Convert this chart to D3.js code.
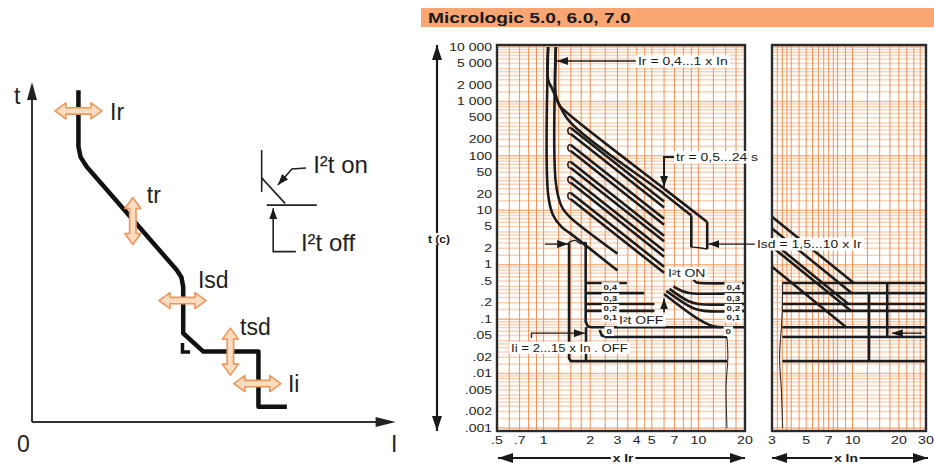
<!DOCTYPE html>
<html>
<head>
<meta charset="utf-8">
<script src="https://cdnjs.cloudflare.com/ajax/libs/d3/7.8.5/d3.min.js"></script>
<style>
body { margin: 0; background: #fff; }
svg { display: block; font-family: "Liberation Sans", Arial, sans-serif; }
</style>
</head>
<body>
<div id="chart"></div>
<script>
// Micrologic 5.0 / 6.0 / 7.0 trip curves + the little sketch on the left

// ---- axis ticks ----
var yTicks = [10000, 5000, 2000, 1000, 500, 200, 100, 50, 20, 10, 5, 2, 1, 0.5, 0.2, 0.1, 0.05, 0.02, 0.01, 0.005, 0.002, 0.001];
var yTickText = ["10 000", "5 000", "2 000", "1 000", "500", "200", "100", "50", "20", "10", "5", "2", "1", ".5", ".2", ".1", ".05", ".02", ".01", ".005", ".002", ".001"];
var irTicks = [0.5, 0.7, 1, 2, 3, 4, 5, 7, 10, 20];
var irTickText = [".5", ".7", "1", "2", "3", "4", "5", "7", "10", "20"];
var inTicks = [3, 5, 7, 10, 20, 30];
var inTickText = ["3", "5", "7", "10", "20", "30"];
var irGrid = [0.6, 0.7, 0.8, 0.9, 1, 1.25, 1.5, 1.75, 2, 2.5, 3, 3.5, 4, 4.5, 5, 6, 7, 8, 9, 10, 12.5, 15, 17.5];
var inGrid = [3.25, 3.5, 3.75, 4, 4.5, 5, 5.5, 6, 6.5, 7, 7.5, 8, 9, 10, 12.5, 15, 17.5, 20, 22.5, 25, 27.5];
var tGridMantissa = [1, 1.5, 2, 2.5, 3, 3.5, 4, 5, 6, 7, 8, 9];

// ---- long time curves [x Ir, t s] ----
var ltTopMax = [[1.2, 10000], [1.2, 1300], [1.26, 860], [1.5, 540], [6, 25], [11.4, 6.1]];
var ltTopMin = [[1.07, 10000], [1.07, 2500], [1.13, 1760], [1.2, 1200], [1.48, 420], [6, 20], [9, 8]];
var ltLowMax = [[1.2, 10000], [1.2, 32], [1.31, 11.6], [1.48, 7.5], [3, 1.6]];
var ltLowMin = [[1.07, 10000], [1.07, 19.5], [1.15, 8.2], [1.31, 4.9], [1.48, 3.8], [3, 0.78]];

// tr bands, t at 1.5 x Ir and at 6 x Ir
var bandUpper0 = [324, 158, 77, 41, 20.7];
var bandUpper6 = [14.5, 7.0, 3.4, 1.8, 0.92];
var bandLower0 = [251, 123, 60, 32, 16];
var bandLower6 = [11.3, 5.4, 2.7, 1.4, 0.71];

// Isd pickup
var isdMin = [[9, 8], [9, 2.1]];
var isdMax = [[11.4, 6.1], [11.4, 1.94]];
var isdBreak = [[9, 2.1], [10.1, 2.05], [11.4, 1.94]];

// Ii / short time
var iiLeft = [[1.46, 2.6], [1.46, 0.019], [1.5, 0.0169], [15.3, 0.0169]];
var iiRight = [[1.87, 2.6], [1.87, 0.09], [1.93, 0.073], [2.05, 0.071], [20, 0.071]];
var iiRightLow = [[1.88, 0.071], [1.88, 0.0169]];
var iiBreak = [[1.46, 2.6], [1.6, 2.8], [1.73, 2.45], [1.87, 2.6]];
var zeroBand = [[2.3, 0.063], [2.38, 0.05], [2.55, 0.047], [15.3, 0.047]];
var tailLine = [[15.3, 0.047], [15.5, 0.02], [15.1, 0.006], [15.3, 0.001]];

var stLevels = [0.46, 0.30, 0.19, 0.142];
var stLeftEnd = [3.45, 4.47, 5.2, 5.2];
var onCurves = [
    [[9.3, 0.53], [9.7, 0.475], [10.4, 0.46], [20, 0.46]],
    [[6.9, 0.40], [7.9, 0.325], [8.9, 0.30], [20, 0.30]],
    [[6.5, 0.36], [8.6, 0.215], [10, 0.19], [20, 0.19]],
    [[6.2, 0.33], [9.2, 0.16], [10.9, 0.142], [20, 0.142]],
    [[6.0, 0.29], [10, 0.1], [12.3, 0.075], [14, 0.071]]
];
var stLabels = ["0,4", "0,3", "0,2", "0,1", "0"];
var stLabelT = [0.39, 0.245, 0.155, 0.108, 0.06];
var stLabelXLeft = [2.7, 2.7, 2.7, 2.7, 2.65];
var stLabelXRight = [16.8, 16.8, 16.8, 16.8, 15.6];

// ---- right panel, x In ----
var rpDiagT0 = [7.6, 4.65, 2.64, 2.13, 0.915];
var rpDiagEnd = [10.2, 9.9, 9.4, 9.75, 9.1];
var rpDiagLevel = [0.46, 0.30, 0.19, 0.142, 0.071];
var rpLevels = [0.46, 0.30, 0.19, 0.142, 0.071, 0.047, 0.0169];
var rpIiMin = [[12.8, 0.30], [12.8, 0.0169]];
var rpIiMax = [[16.8, 0.46], [16.8, 0.047]];
var rpTail = [[3.52, 0.46], [3.48, 0.1], [3.36, 0.02], [3.45, 0.005], [3.52, 0.001]];

// ---- sketch (units 0..100) ----
var tripSketch = [[12.9, 97.6], [12.9, 81.0], [13.5, 77.9], [15.2, 75.1], [40.2, 44.7], [41.5, 42.6], [42.0, 39.7],
    [42.0, 26.1], [47.6, 20.7], [62.9, 20.7], [62.9, 4.5], [70.8, 4.5]];
var sketchTick = [[41.8, 23.2], [41.8, 20.6], [43.9, 20.6]];
var knobs = [
    {name: "Ir", at: [12.9, 91.5], dir: "h", text: [21.7, 88.8]},
    {name: "tr", at: [28.0, 59.1], dir: "v", text: [31.9, 64.4]},
    {name: "Isd", at: [41.8, 35.7], dir: "h", text: [46.1, 39.4]},
    {name: "tsd", at: [55.1, 20.7], dir: "v", text: [57.8, 25.6]},
    {name: "Ii", at: [62.6, 11.3], dir: "h", text: [71.1, 8.8]}
];


var W = 934, H = 466;
var svg = d3.select("#chart").append("svg")
    .attr("width", W)
    .attr("height", H);

var defs = svg.append("defs");
defs.append("marker").attr("id", "head")
    .attr("markerUnits", "userSpaceOnUse")
    .attr("markerWidth", 12).attr("markerHeight", 8)
    .attr("refX", 11).attr("refY", 4)
    .attr("orient", "auto")
    .append("path").attr("d", "M0,0 L11,4 L0,8 Z").attr("fill", "#1a1a1a");

var x1 = d3.scaleLog().domain([0.5, 20]).range([497, 745]);
var x2 = d3.scaleLog().domain([3, 30]).range([772, 926]);
var y = d3.scaleLog().domain([0.001, 10000]).range([428, 47]);
var yTop = y(10000) - 2, yBot = y(0.001) + 3;

// title bar
svg.append("rect")
    .attr("x", 421).attr("y", 8)
    .attr("width", W - 421).attr("height", 19)
    .attr("fill", "#faa673");

function label(x, yy, txt, o) {
    o = o || {};
    var g = svg.append("g")
        .attr("transform", "translate(" + x + "," + yy + ") scale(" + (o.sx || 1.4) + ",1)");
    var t = g.append("text")
        .attr("font-size", o.size || 10)
        .attr("font-weight", o.bold ? "bold" : null)
        .attr("text-anchor", o.anchor || "start")
        .attr("dy", "0.35em")
        .attr("fill", o.color || "#1a1a1a")
        .text(txt);
    if (o.box) {
        var b = t.node().getBBox();
        g.insert("rect", "text")
            .attr("x", b.x - 1.5).attr("y", b.y - 0.5)
            .attr("width", b.width + 3).attr("height", b.height + 1)
            .attr("fill", "#fff");
    }
    return g;
}

label(428, 17.5, "Micrologic 5.0, 6.0, 7.0", {size: 15, bold: true, sx: 1.28});

// grids
function grid(xs, vals) {
    var g = svg.append("g");
    var tv = [];
    for (var e = -3; e < 4; e++) {
        tGridMantissa.forEach(function (m) { tv.push(m * Math.pow(10, e)); });
    }
    tv.push(10000);
    g.selectAll("line.h").data(tv).enter().append("line")
        .attr("x1", xs.range()[0]).attr("x2", xs.range()[1])
        .attr("y1", function (d) { return y(d); })
        .attr("y2", function (d) { return y(d); })
        .attr("stroke", function (d, i) { return i % tGridMantissa.length === 0 ? "#f8b68a" : "#fcd3b6"; })
        .attr("stroke-width", 1.5);
    g.selectAll("line.v").data(vals).enter().append("line")
        .attr("x1", function (d) { return xs(d); })
        .attr("x2", function (d) { return xs(d); })
        .attr("y1", yTop).attr("y2", yBot)
        .attr("stroke", "#f39055")
        .attr("stroke-width", 1);
}
grid(x1, irGrid);
grid(x2, inGrid);

var gMain = svg.append("g");
var gRight = svg.append("g");

function curve(g, xs, pts, smooth, w) {
    var line = d3.line()
        .x(function (d) { return xs(d[0]); })
        .y(function (d) { return y(d[1]); })
        .curve(smooth ? d3.curveCatmullRom.alpha(0.5) : d3.curveLinear);
    return g.append("path").datum(pts)
        .attr("d", line)
        .attr("fill", "none")
        .attr("stroke", "#1c1c1c")
        .attr("stroke-width", w || 2.6)
        .attr("stroke-linejoin", "round");
}

// long time
curve(gMain, x1, ltTopMax, true);
curve(gMain, x1, ltTopMin, true);
curve(gMain, x1, ltLowMax, true);
curve(gMain, x1, ltLowMin, true);

bandUpper0.forEach(function (u0, i) {
    curve(gMain, x1, [[1.5, u0], [6, bandUpper6[i]]]);
    curve(gMain, x1, [[1.5, bandLower0[i]], [6, bandLower6[i]]]);
    var px = x1(1.5), yu = y(u0), yl = y(bandLower0[i]);
    gMain.append("path")
        .attr("d", "M" + px + "," + yu + " C" + (px - 4) + "," + (yu - 2) + " " + (px - 4) + "," + (yl + 1) + " " + px + "," + yl)
        .attr("fill", "none").attr("stroke", "#1c1c1c").attr("stroke-width", 1.6);
});

// Isd
curve(gMain, x1, isdMin);
curve(gMain, x1, isdMax);
curve(gMain, x1, isdBreak, true, 1.3);

// Ii + short time
curve(gMain, x1, iiLeft);
curve(gMain, x1, iiRight);
curve(gMain, x1, iiRightLow);
curve(gMain, x1, iiBreak, true, 1.3);
curve(gMain, x1, zeroBand);
curve(gMain, x1, tailLine, true, 1);
stLevels.forEach(function (t, i) {
    curve(gMain, x1, [[1.87, t], [stLeftEnd[i], t]]);
});
onCurves.forEach(function (c) {
    curve(gMain, x1, c, true);
});

// right panel
rpLevels.forEach(function (t) {
    curve(gRight, x2, [[3.5, t], [30, t]]);
});
rpDiagT0.forEach(function (t0, i) {
    curve(gRight, x2, [[3, t0], [rpDiagEnd[i], rpDiagLevel[i]]]);
});
curve(gRight, x2, rpIiMin);
curve(gRight, x2, rpIiMax);
curve(gRight, x2, rpTail, true, 1);

// frames
[x1, x2].forEach(function (xs) {
    svg.append("rect")
        .attr("x", xs.range()[0]).attr("y", yTop)
        .attr("width", xs.range()[1] - xs.range()[0])
        .attr("height", yBot - yTop)
        .attr("fill", "none")
        .attr("stroke", "#2a2a2a")
        .attr("stroke-width", 2.4);
});

// tick labels
yTicks.forEach(function (v, i) {
    label(492, y(v), yTickText[i], {size: 10.5, sx: 1.33, anchor: "end", color: "#222"});
});
irTicks.forEach(function (v, i) {
    label(x1(v), 440, irTickText[i], {size: 10.5, sx: 1.35, anchor: "middle", color: "#222"});
});
inTicks.forEach(function (v, i) {
    label(x2(v), 440, inTickText[i], {size: 10.5, sx: 1.35, anchor: "middle", color: "#222"});
});

// arrows
function arrow(pts, xs, w) {
    return svg.append("path").datum(pts)
        .attr("d", d3.line().x(function (d) { return xs(d[0]); }).y(function (d) { return y(d[1]); }))
        .attr("fill", "none")
        .attr("stroke", "#1a1a1a")
        .attr("stroke-width", w || 1.3)
        .attr("marker-end", "url(#head)");
}
arrow([[4.0, 5530], [1.22, 5530]], x1);
arrow([[7.0, 95], [6.0, 95], [6.0, 27]], x1, 2);
arrow([[23.5, 2.39], [11.6, 2.39]], x1);
arrow([[1.02, 2.39], [1.44, 2.39]], x1);
arrow([[6.0, 0.134], [6.0, 0.24]], x1, 1.6);
arrow([[0.835, 0.045], [0.835, 0.0553], [1.85, 0.0553]], x1);
arrow([[28.3, 0.0553], [18.0, 0.0553]], x2);

// annotations
label(x1(4.07), y(5530), "Ir = 0,4...1 x In", {box: true});
label(x1(7.17), y(95), "tr = 0,5...24 s", {box: true});
label(x1(23.9), y(2.39), "Isd = 1,5...10 x Ir", {box: true});
label(x1(6.37), y(0.70), "I\u00b2t ON", {box: true});
label(x1(3.07), y(0.096), "I\u00b2t OFF", {box: true});
label(x1(0.616), y(0.0293), "Ii = 2...15 x In . OFF", {box: true, sx: 1.32});
stLabels.forEach(function (s, i) {
    label(x1(stLabelXLeft[i]), y(stLabelT[i]), s, {size: 7.5, bold: true, sx: 1.3, anchor: "middle", box: true});
    label(x1(stLabelXRight[i]), y(stLabelT[i]), s, {size: 7.5, bold: true, sx: 1.3, anchor: "middle", box: true});
});

// big axis arrows
function bigArrow(ax, ay, bx, by) {
    svg.append("line")
        .attr("x1", ax).attr("y1", ay).attr("x2", bx).attr("y2", by)
        .attr("stroke", "#1a1a1a").attr("stroke-width", 2.2);
    [[ax, ay, bx, by], [bx, by, ax, ay]].forEach(function (s) {
        var a = Math.atan2(s[1] - s[3], s[0] - s[2]), L = 15, hw = 5;
        var cx = s[0] - L * Math.cos(a), cy = s[1] - L * Math.sin(a);
        svg.append("path")
            .attr("d", "M" + s[0] + "," + s[1] +
                " L" + (cx - hw * Math.sin(a)) + "," + (cy + hw * Math.cos(a)) +
                " L" + (cx + hw * Math.sin(a)) + "," + (cy - hw * Math.cos(a)) + " Z")
            .attr("fill", "#1a1a1a");
    });
}
bigArrow(437, yTop, 437, yBot);
label(439, 239, "t (c)", {size: 10, bold: true, sx: 1.2, anchor: "middle", box: true});
bigArrow(x1.range()[0] + 1, 458, x1.range()[1], 458);
label(623, 458, "x Ir", {size: 11, bold: true, sx: 1.25, anchor: "middle", box: true});
bigArrow(x2.range()[0], 458, x2.range()[1] + 2, 458);
label(846, 458, "x In", {size: 11, bold: true, sx: 1.25, anchor: "middle", box: true});


// ---------- left sketch ----------
var su = d3.scaleLinear().domain([0, 100]).range([32, 392]);
var sv = d3.scaleLinear().domain([0, 100]).range([422, 82]);
var gs = svg.append("g");

gs.append("line").attr("x1", su(0)).attr("y1", sv(0)).attr("x2", su(0)).attr("y2", sv(99))
    .attr("stroke", "#333").attr("stroke-width", 2);
gs.append("line").attr("x1", su(0)).attr("y1", sv(0)).attr("x2", su(100), 0).attr("y2", sv(0))
    .attr("stroke", "#333").attr("stroke-width", 2);
gs.append("path")
    .attr("d", "M" + su(0) + "," + sv(100) + " l-5,18 l10,0 Z").attr("fill", "#222");
gs.append("path")
    .attr("d", "M" + su(101) + "," + sv(0) + " l-20,-5 l0,10 Z").attr("fill", "#222");

var sline = d3.line().x(function (d) { return su(d[0]); }).y(function (d) { return sv(d[1]); });
gs.append("path").datum(tripSketch).attr("d", sline)
    .attr("fill", "none").attr("stroke", "#111").attr("stroke-width", 4.5).attr("stroke-linejoin", "round");
gs.append("path").datum(sketchTick).attr("d", sline)
    .attr("fill", "none").attr("stroke", "#111").attr("stroke-width", 3.5);

// orange double arrows
knobs.forEach(function (k) {
    var cx = su(k.at[0]), cy = sv(k.at[1]);
    var L = 23.5, hl = 11, hw = 8, sw = 3.2;
    var p = [[-L, 0], [-L + hl, -hw], [-L + hl, -sw], [L - hl, -sw], [L - hl, -hw], [L, 0],
        [L - hl, hw], [L - hl, sw], [-L + hl, sw], [-L + hl, hw]];
    gs.append("path")
        .attr("d", "M" + p.map(function (q) { return q.join(","); }).join(" L") + " Z")
        .attr("transform", "translate(" + cx + "," + cy + ")" + (k.dir === "v" ? " rotate(90)" : ""))
        .attr("fill", "#fddcc0")
        .attr("stroke", "#f0955a")
        .attr("stroke-width", 1.6)
        .attr("stroke-linejoin", "round");
    gs.append("text")
        .attr("x", su(k.text[0])).attr("y", sv(k.text[1]))
        .attr("font-size", 23).attr("fill", "#222")
        .text(k.name);
});

gs.append("text").attr("x", 14).attr("y", 104).attr("font-size", 23).attr("fill", "#222").text("t");
gs.append("text").attr("x", 17).attr("y", 452).attr("font-size", 23).attr("fill", "#222").text("0");
gs.append("text").attr("x", 391).attr("y", 452).attr("font-size", 23).attr("fill", "#222").text("I");

// I2t inset
var inset = [
    [[63.8, 80.0], [63.8, 67.7]],
    [[63.8, 71.8], [70.3, 64.3]],
    [[65.2, 63.8], [79.1, 63.8]]
];
inset.forEach(function (seg) {
    gs.append("path").datum(seg).attr("d", sline)
        .attr("fill", "none").attr("stroke", "#222").attr("stroke-width", 1.6);
});
gs.append("path").datum([[76.1, 74.7], [72.2, 74.4], [68.3, 69.7]]).attr("d", sline)
    .attr("fill", "none").attr("stroke", "#222").attr("stroke-width", 1.6).attr("marker-end", "url(#head)");
gs.append("path").datum([[73.3, 50.1], [67.0, 50.1], [67.0, 62.9]]).attr("d", sline)
    .attr("fill", "none").attr("stroke", "#222").attr("stroke-width", 1.6).attr("marker-end", "url(#head)");
gs.append("text").attr("x", su(78.1)).attr("y", sv(73.2)).attr("font-size", 24).attr("fill", "#222").text("I\u00b2t on");
gs.append("text").attr("x", su(74.7)).attr("y", sv(50.3)).attr("font-size", 24).attr("fill", "#222").text("I\u00b2t off");
</script>
</body>
</html>
